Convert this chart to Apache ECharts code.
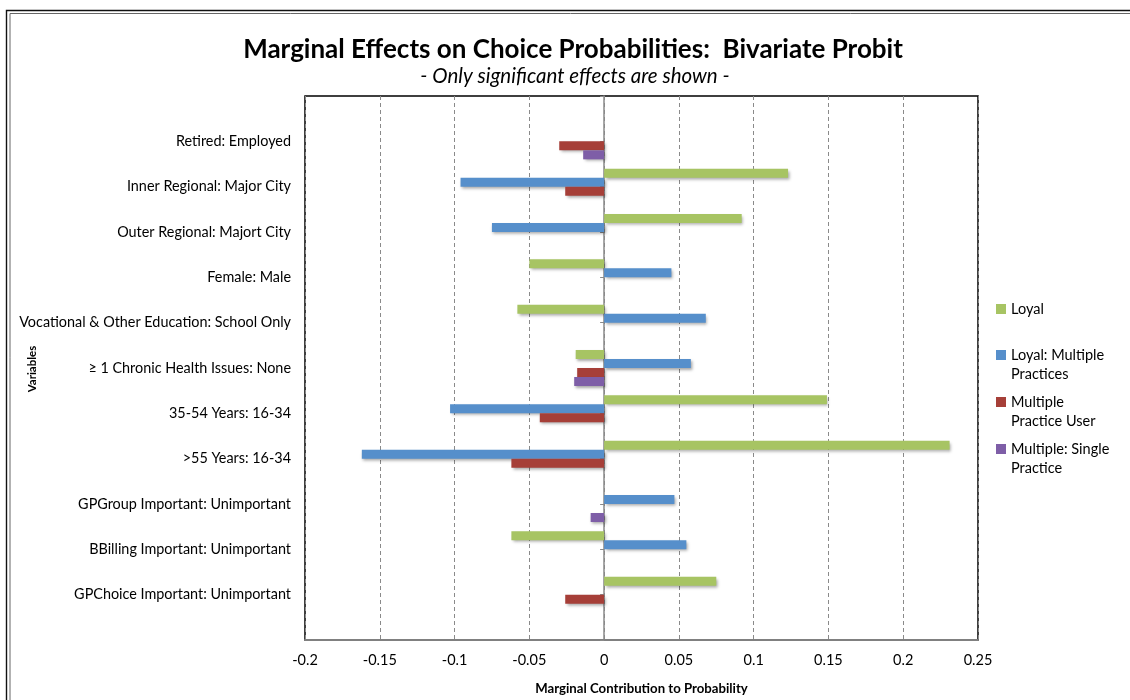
<!DOCTYPE html>
<html>
<head>
<meta charset="utf-8">
<script src="https://cdn.jsdelivr.net/npm/echarts@6/dist/echarts.min.js"></script>
<style>
  html, body { margin: 0; padding: 0; background: #fff; }
  #chart { width: 1130px; height: 700px; }
</style>
</head>
<body>
<div id="chart"></div>
<script>
// Explanatory variables (contrast: base level), listed top to bottom
const categories = [
  'Retired: Employed',
  'Inner Regional: Major City',
  'Outer Regional: Majort City',
  'Female: Male',
  'Vocational & Other Education: School Only',
  '\u2265 1 Chronic Health Issues: None',
  '35-54 Years: 16-34',
  '>55 Years: 16-34',
  'GPGroup Important: Unimportant',
  'BBilling Important: Unimportant',
  'GPChoice Important: Unimportant'
];

// Significant marginal effects only (null = not significant)
const loyal          = [null, 0.123, 0.092, -0.050, -0.058, -0.019, 0.149, 0.231, null, -0.062, 0.075];
const loyalMultiple  = [null, -0.096, -0.075, 0.045, 0.068, 0.058, -0.103, -0.162, 0.047, 0.055, null];
const multipleUser   = [-0.030, -0.026, null, null, null, -0.018, -0.043, -0.062, null, null, -0.026];
const multipleSingle = [-0.014, null, null, null, null, -0.020, null, null, -0.009, null, null];

const seriesNames = ['Loyal', 'Loyal: Multiple Practices', 'Multiple Practice User', 'Multiple: Single Practice'];
const legendLabels = ['Loyal', 'Loyal: Multiple\nPractices', 'Multiple\nPractice User', 'Multiple: Single\nPractice'];
const seriesData = [loyal, loyalMultiple, multipleUser, multipleSingle];
const colors = ['#A7C463', '#568FCB', '#A63F38', '#7E5EA7'];

const xTicks = { min: -0.2, max: 0.25, interval: 0.05 };

const FONT = 'Lato, "Open Sans", sans-serif';

const chart = echarts.init(document.getElementById('chart'), null, { renderer: 'canvas' });

const legendTops = [301.5, 328.5, 375.5, 422.5];

const option = {
  backgroundColor: '#fff',
  animation: false,
  textStyle: { fontFamily: FONT },
  graphic: [
    // double outer frame
    { type: 'rect', shape: { x: 6.5, y: 10.5, width: 1200, height: 800 },
      style: { fill: 'none', stroke: '#111', lineWidth: 1.4 }, silent: true, z: 0 },
    { type: 'rect', shape: { x: 10, y: 13.5, width: 1200, height: 800 },
      style: { fill: 'none', stroke: '#666', lineWidth: 1 }, silent: true, z: 0 },
    { type: 'text', x: 573, y: 50,
      style: { text: 'Marginal Effects on Choice Probabilities:  Bivariate Probit',
               font: 'bold 26px ' + FONT, fill: '#000', textAlign: 'center', textVerticalAlign: 'middle' } },
    { type: 'text', x: 575, y: 76,
      style: { text: '- Only significant effects are shown -',
               font: 'italic 20.5px ' + FONT, fill: '#000', textAlign: 'center', textVerticalAlign: 'middle' } },
    // vertical axis title
    { type: 'text', x: 32, y: 369, rotation: Math.PI / 2,
      style: { text: 'Variables', font: 'bold 11.5px ' + FONT, fill: '#000',
               textAlign: 'center', textVerticalAlign: 'middle' } }
  ],
  legend: seriesNames.map((name, i) => ({
    data: [name],
    orient: 'vertical',
    left: 996,
    top: legendTops[i],
    padding: 0,
    icon: 'rect',
    itemWidth: 10,
    itemHeight: 10,
    selectedMode: false,
    formatter: function (n) {
      const lines = legendLabels[seriesNames.indexOf(n)].split('\n');
      if (lines.length === 1) return '{t|' + lines[0] + '}';
      return '{h| }\n' + lines.map(l => '{t|' + l + '}').join('\n');
    },
    textStyle: {
      fontFamily: FONT, fontSize: 14.5, color: '#000',
      rich: {
        t: { fontFamily: FONT, fontSize: 14.5, lineHeight: 19, color: '#000' },
        h: { fontFamily: FONT, fontSize: 14.5, lineHeight: 19, color: '#000' }
      }
    }
  })),
  grid: [
    // bars
    { left: 305, right: 152, top: 118.67, bottom: 82.67, containLabel: false, outerBoundsMode: 'none' },
    // plot frame, gridlines and value scale
    { left: 305, right: 152, top: 96, bottom: 60, containLabel: false, outerBoundsMode: 'none',
      show: true, borderColor: '#000', borderWidth: 1.5, backgroundColor: 'transparent' }
  ],
  xAxis: [
    { gridIndex: 0, type: 'value', min: xTicks.min, max: xTicks.max, interval: xTicks.interval,
      show: false },
    { gridIndex: 1, type: 'value', min: xTicks.min, max: xTicks.max, interval: xTicks.interval,
      position: 'bottom',
      axisLine: { show: true, onZero: false, lineStyle: { color: '#808080', width: 2 } },
      axisTick: { show: false },
      splitLine: { show: true, lineStyle: { color: '#8a8a8a', width: 1, type: [4, 3] } },
      axisLabel: { color: '#000', fontSize: 14.5, margin: 13, fontFamily: FONT },
      name: 'Marginal Contribution to Probability',
      nameLocation: 'middle',
      nameGap: 42,
      nameTextStyle: { color: '#000', fontSize: 13.2, fontWeight: 'bold', fontFamily: FONT } }
  ],
  yAxis: [
    { gridIndex: 0, type: 'category', data: categories, inverse: true,
      axisLine: { show: false }, axisTick: { show: false },
      axisLabel: { color: '#000', fontSize: 14.4, margin: 14, fontFamily: FONT } },
    { gridIndex: 1, type: 'value', min: 0, max: 12, interval: 1, inverse: true,
      axisLine: { show: true, onZero: true, lineStyle: { color: '#8a8a8a', width: 1.5 } },
      axisTick: { show: true, length: 4, lineStyle: { color: '#8a8a8a' } },
      axisLabel: { show: false },
      splitLine: { show: false } }
  ],
  series: seriesNames.map((name, i) => ({
    name: name,
    type: 'bar',
    xAxisIndex: 0,
    yAxisIndex: 0,
    data: seriesData[i],
    barWidth: 9,
    barGap: '0%',
    z: 3,
    itemStyle: {
      color: colors[i],
      shadowBlur: 3,
      shadowOffsetX: 1.5,
      shadowOffsetY: 2,
      shadowColor: 'rgba(0,0,0,0.35)'
    }
  }))
};

chart.setOption(option);
</script>
</body>
</html>
